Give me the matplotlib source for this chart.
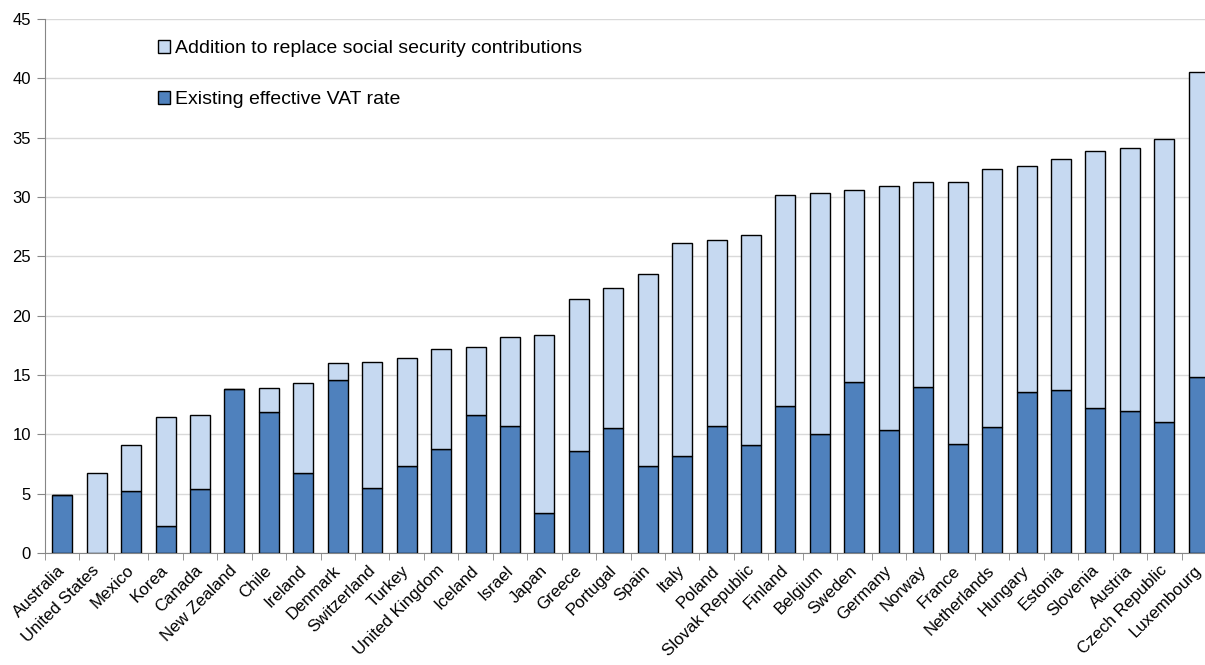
import matplotlib
matplotlib.use("Agg")
import matplotlib.pyplot as plt
from matplotlib.transforms import ScaledTranslation
import numpy as np

countries = ["Australia", "United States", "Mexico", "Korea", "Canada", "New Zealand",
             "Chile", "Ireland", "Denmark", "Switzerland", "Turkey", "United Kingdom",
             "Iceland", "Israel", "Japan", "Greece", "Portugal", "Spain", "Italy", "Poland",
             "Slovak Republic", "Finland", "Belgium", "Sweden", "Germany", "Norway", "France",
             "Netherlands", "Hungary", "Estonia", "Slovenia", "Austria", "Czech Republic",
             "Luxembourg"]
existing_vat = [4.9, 0.0, 5.2, 2.3, 5.4, 13.8, 11.9, 6.7, 14.6, 5.5, 7.3, 8.8,
                11.6, 10.7, 3.4, 8.6, 10.5, 7.3, 8.2, 10.7, 9.1, 12.4, 10.0, 14.4,
                10.4, 14.0, 9.2, 10.6, 13.6, 13.7, 12.2, 12.0, 11.0, 14.8]
total_rate = [4.9, 6.7, 9.1, 11.5, 11.6, 13.8, 13.9, 14.3, 16.0, 16.1, 16.4, 17.2,
              17.4, 18.2, 18.4, 21.4, 22.3, 23.5, 26.1, 26.4, 26.8, 30.2, 30.3, 30.6,
              30.9, 31.3, 31.3, 32.4, 32.6, 33.2, 33.9, 34.1, 34.9, 40.5]
addition = [t - e for t, e in zip(total_rate, existing_vat)]

plt.rcParams['font.family'] = ['Liberation Sans', 'DejaVu Sans']

fig = plt.figure(figsize=(12.05, 6.65), dpi=100)
ax = fig.add_axes([45/1205, (665-553)/665, 1171/1205, (553-19)/665])

x = np.arange(len(countries))
dark = "#4F81BD"
light = "#C6D9F1"
b1 = ax.bar(x, existing_vat, width=0.58, color=dark, edgecolor="black", linewidth=1.0,
            label="Existing effective VAT rate", zorder=3)
b2 = ax.bar(x, addition, bottom=existing_vat, width=0.58, color=light, edgecolor="black",
            linewidth=1.0, label="Addition to replace social security contributions", zorder=3)

ax.set_xlim(-0.5, len(countries) - 0.5)
ax.set_ylim(0, 45)
ax.set_yticks(range(0, 46, 5))
ax.yaxis.grid(True, color="#D9D9D9", linewidth=1.0, zorder=0)
ax.set_axisbelow(True)
for s in ["top", "right"]:
    ax.spines[s].set_visible(False)
ax.spines["left"].set_color("#868686")
ax.spines["bottom"].set_color("#868686")
ax.tick_params(axis="y", length=6, color="#868686", labelsize=12, pad=4)

ax.set_xticks(x)
ax.set_xticklabels(countries, rotation=45, ha="right", rotation_mode="anchor", fontsize=12.2)
ax.tick_params(axis="x", length=0, pad=7)
ax.set_xticks(np.arange(-0.5, len(countries), 1.0), minor=True)
ax.tick_params(axis="x", which="minor", length=5, color="#868686")
shift = ScaledTranslation(-5/100, 0, fig.dpi_scale_trans)
for lbl in ax.get_xticklabels():
    lbl.set_transform(lbl.get_transform() + shift)

leg = ax.legend(handles=[b2, b1], loc="upper left", bbox_to_anchor=(0.09, 0.975),
                frameon=False, fontsize=14, handlelength=0.62, handleheight=0.62,
                handletextpad=0.25, labelspacing=1.75, borderaxespad=0)

fig.savefig("out.png", dpi=100)
